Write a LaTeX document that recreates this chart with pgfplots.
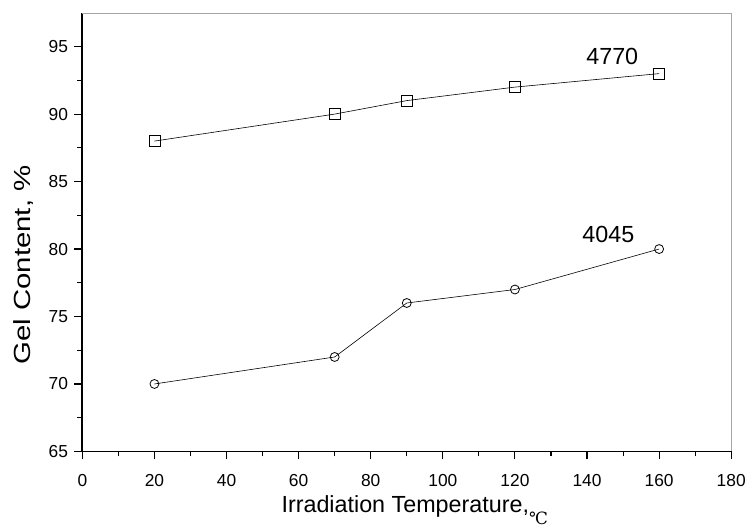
\documentclass[border=0pt]{standalone}
\usepackage{graphicx}
\usepackage{fontspec}
\setmainfont{Liberation Sans}
\newfontfamily\symfont{DejaVu Serif}
\usepackage{pgfplots}
\pgfplotsset{compat=1.18}

\begin{document}
\begin{tikzpicture}
\begin{axis}[
  at={(0,0)}, anchor=south west,
  scale only axis,
  width=654bp, height=442bp,
  xmin=0, xmax=180, ymin=65, ymax=97.5,
  xtick={0,20,...,180}, ytick={65,70,...,95},
  minor x tick num=1, minor y tick num=1,
  axis x line*=bottom, axis y line*=left,
  axis line style={line width=1.8pt, -},
  tick align=outside,
  major tick length=8bp, minor tick length=5bp,
  tick style={line width=1.1pt, black},
  /pgf/number format/assume math mode=true,
  tick label style={font=\fontsize{17.5bp}{21bp}\selectfont},
  xticklabel style={yshift=-12bp},
  yticklabel style={xshift=-3bp},
  label style={font=\fontsize{23.5bp}{28bp}\selectfont},
  xlabel={Irradiation Temperature,\raisebox{-12bp}{\symfont\fontsize{17bp}{19bp}\selectfont ℃}},
  ylabel={\scalebox{1.26}[1]{Gel Content, \%}},
  xlabel style={yshift=-2bp, xshift=8bp},
  ylabel style={at={(ticklabel cs:0.425)}, yshift=8bp},
  clip=false,
]
% thin frame on the top and right sides
\draw[gray!70, line width=0.7pt] (rel axis cs:0,1) -- (rel axis cs:1,1) -- (rel axis cs:1,0);

\addplot[black, line width=0.6pt, mark=square, mark size=5.5bp,
  mark options={fill=white, line width=0.8pt, solid}]
  coordinates {(20,88) (70,90) (90,91) (120,92) (160,93)};
\addplot[black, line width=0.6pt, mark=o, mark size=4.5bp,
  mark options={fill=white, line width=0.8pt, solid}]
  coordinates {(20,70) (70,72) (90,76) (120,77) (160,80)};

\node[font=\fontsize{23.5bp}{28bp}\selectfont] at (axis cs:147,94.3) {4770};
\node[font=\fontsize{23.5bp}{28bp}\selectfont] at (axis cs:145.9,81.07) {4045};
\end{axis}
\useasboundingbox (-83bp,-69bp) rectangle (666bp,455bp);
\end{tikzpicture}
\end{document}
